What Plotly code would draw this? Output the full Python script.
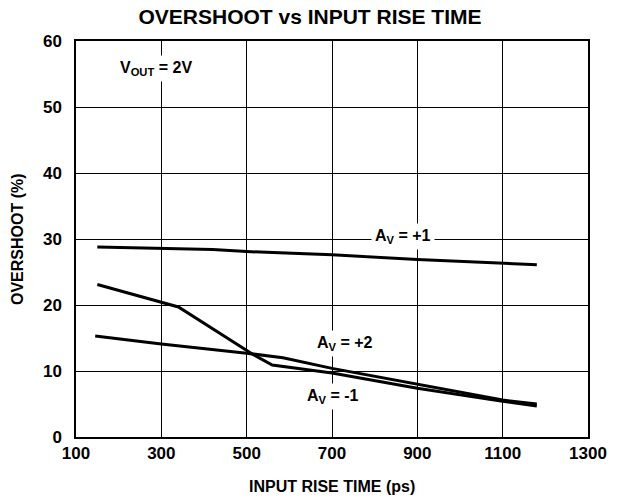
import plotly.graph_objects as go

# rise time (ps) / overshoot (%)
av1_x = [150, 300, 420, 500, 700, 900, 1100, 1180]
av1_y = [28.8, 28.6, 28.4, 28.1, 27.6, 26.9, 26.3, 26.1]

avm1_x = [150, 340, 515, 560, 700, 900, 1100, 1180]
avm1_y = [23.1, 19.7, 12.5, 10.9, 9.7, 7.4, 5.4, 4.7]

av2_x = [145, 300, 500, 585, 700, 900, 1100, 1180]
av2_y = [15.3, 14.1, 12.7, 12.0, 10.4, 8.0, 5.6, 5.0]

x_ticks = [100, 300, 500, 700, 900, 1100, 1300]
y_ticks = [0, 10, 20, 30, 40, 50, 60]

FONT = "Liberation Sans, Arial, sans-serif"
line_style = dict(color="black", width=3)

fig = go.Figure()
for xs, ys, name in [(av1_x, av1_y, "AV=+1"), (avm1_x, avm1_y, "AV=-1"), (av2_x, av2_y, "AV=+2")]:
    fig.add_trace(go.Scatter(x=xs, y=ys, mode="lines", name=name, line=line_style,
                             showlegend=False, hoverinfo="skip"))

labels = [
    ("V<sub>OUT</sub> = 2V", 288, 55.9),
    ("A<sub>V</sub> = +1", 866, 30.4),
    ("A<sub>V</sub> = +2", 730, 14.2),
    ("A<sub>V</sub> = -1", 702, 6.1),
]
annotations = [
    dict(text=t, x=x, y=y, xref="x", yref="y", showarrow=False,
         bgcolor="white", borderpad=3,
         font=dict(family=FONT, size=16, color="black", weight="bold"))
    for t, x, y in labels
]
# axis titles placed as paper annotations to match the reference offsets
annotations += [
    dict(text="INPUT RISE TIME (ps)", x=0.5, y=-49 / 396, xref="paper", yref="paper",
         showarrow=False, xanchor="center", yanchor="middle",
         font=dict(family=FONT, size=16, color="black", weight="bold")),
    dict(text="OVERSHOOT (%)", x=-59 / 512, y=0.5, xref="paper", yref="paper",
         showarrow=False, xanchor="center", yanchor="middle", textangle=-90,
         font=dict(family=FONT, size=16, color="black", weight="bold")),
]

fig.update_layout(
    width=618, height=499,
    margin=dict(l=76, r=30, t=41, b=62, autoexpand=False),
    plot_bgcolor="white", paper_bgcolor="white",
    font=dict(family=FONT, color="black"),
    title=dict(text="OVERSHOOT vs INPUT RISE TIME", x=310 / 618, xanchor="center",
               y=1 - 17 / 499, yanchor="middle",
               font=dict(family=FONT, size=21, weight="bold", color="black")),
    annotations=annotations,
)
fig.update_xaxes(range=[100, 1300], tickvals=x_ticks, showgrid=True, gridcolor="black", gridwidth=1,
                 showline=True, linecolor="black", linewidth=1.5, mirror=True, zeroline=False,
                 ticks="", automargin=False, tickfont=dict(family=FONT, size=17, weight="bold"))
fig.update_yaxes(range=[0, 60], tickvals=y_ticks, showgrid=True, gridcolor="black", gridwidth=1,
                 showline=True, linecolor="black", linewidth=1.5, mirror=True, zeroline=False,
                 ticks="", ticklabelstandoff=9, automargin=False,
                 tickfont=dict(family=FONT, size=17, weight="bold"))

fig.write_html("out.html", config={"displayModeBar": False},
               post_script="document.body.style.margin='0';")
